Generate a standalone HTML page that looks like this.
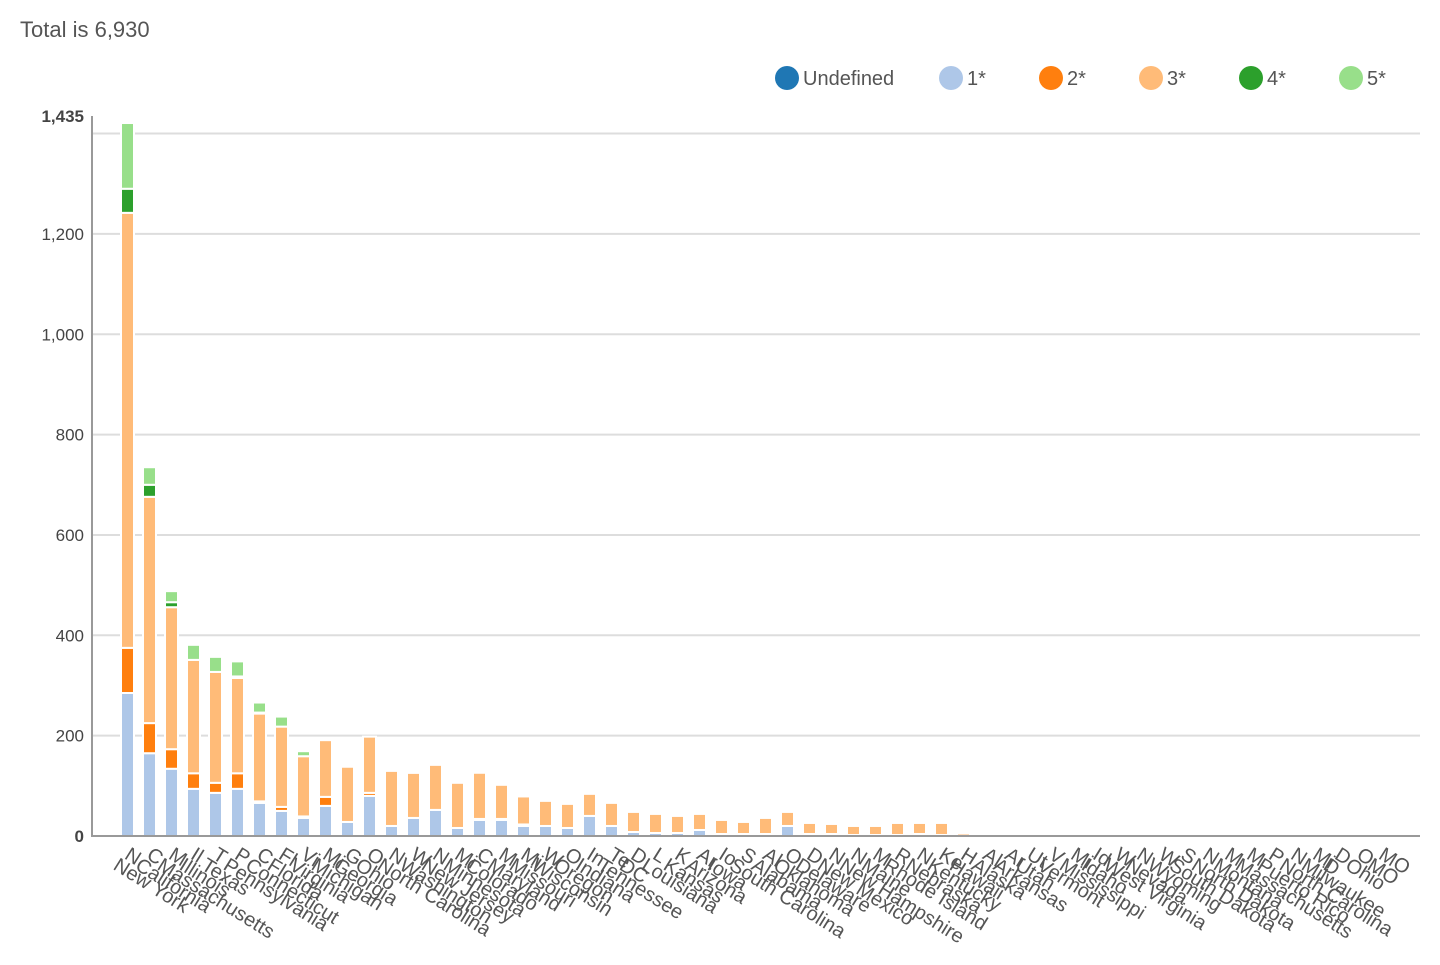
<!DOCTYPE html>
<html><head><meta charset="utf-8"><style>
body{margin:0;background:#fff;width:1440px;height:960px;overflow:hidden;font-family:"Liberation Sans",sans-serif}
svg text{font-family:"Liberation Sans",sans-serif}
</style></head><body>
<svg id="chart" width="1440" height="960">
<text x="20" y="37" font-size="22" fill="#555">Total is 6,930</text>
<g id="legend"></g>
<g id="grid"></g>
<g id="yaxis"></g>
<g id="bars"></g>
<g id="xaxis"></g>
</svg>
<script>
const categories=["New York","California","Massachusetts","Illinois","Texas","Pennsylvania","Connecticut","Florida","Virginia","Michigan","Georgia","Ohio","North Carolina","Washington","New Jersey","Minnesota","Colorado","Maryland","Missouri","Wisconsin","Oregon","Indiana","Tennessee","DC","Louisiana","Kansas","Arizona","Iowa","South Carolina","Alabama","Oklahoma","Delaware","New Mexico","New Hampshire","Maine","Rhode Island","Nebraska","Kentucky","Hawaii","Alaska","Arkansas","Utah","Vermont","Mississippi","Idaho","West Virginia","Nevada","Wyoming","South Dakota","North Dakota","Montana","Massachusetts","Puerto Rico","North Carolina","Milwaukee","D","Ohio","MO"];
const abbrevs=["N","C","M","Il","T","P","C","Fl","Vi","Mi","G","O","N","W","N","Mi","C","M","Mi","W","O","In","Te","D","L","K","Ar","Io","S","Al","O","D","N","N","M","R","N","Ke","H","Al","Ar","Ut","V","Mi","Id","W","N","W","S","N","M","M","P","N","Mi","D","O","MO"];
const seriesNames=["Undefined","1*","2*","3*","4*","5*"];
const seriesColors=["#1f77b4","#aec7e8","#ff7f0e","#ffbb78","#2ca02c","#98df8a"];
const undef=[0,0,0,0,0,0,0,0,0,0,0,0,0,0,0,0,0,0,0,0,0,0,0,0,0,0,0,0,0,0,0,0,0,0,0,0,0,0,0,0,0,0,0,0,0,0,0,0,0,0,0,0,0,0,0,0,0,0];
const s1=[285,165,134,94,86,94,66,50,36,60,28,80,20,36,52,16,32,32,20,20,16,40,20,8,6,6,12,4,4,4,20,4,4,2,2,2,4,2,1,1,1,0,0,0,0,0,0,0,0,0,0,0,0,0,0,0,0,0];
const s2=[90,60,39,31,20,31,3,8,3,18,0,6,0,0,0,0,2,2,3,0,0,0,0,0,0,0,0,0,0,0,0,0,0,0,0,0,0,0,0,0,0,0,0,0,0,0,0,0,0,0,0,0,0,0,0,0,0,0];
const s3=[867,451,283,226,221,190,175,160,120,113,110,112,110,90,90,90,92,68,56,50,48,44,46,40,38,34,32,28,24,32,28,22,20,18,18,24,22,24,5,3,3,1,0,0,0,0,0,0,0,0,0,0,0,0,0,0,0,0];
const s4=[48,24,10,0,0,3,2,0,0,0,0,0,0,0,0,0,0,0,0,0,0,0,0,0,0,0,0,0,0,0,0,0,0,0,0,0,0,0,0,0,0,0,0,0,0,0,0,0,0,0,0,0,0,0,0,0,0,0];
const s5=[131,35,22,30,30,30,20,20,10,0,0,0,3,3,3,0,0,0,3,0,0,0,0,0,0,0,0,0,0,0,0,0,0,0,0,0,0,0,0,0,0,0,0,0,0,0,0,0,0,0,0,0,0,0,0,0,0,0];
const yTicks=[0,200,400,600,800,1000,1200];
const yMax=1435;

const NS="http://www.w3.org/2000/svg";
const X0=92,X1=1420,Y0=836,Y1=116;
const yScale=v=>Y0-(v/yMax)*(Y0-Y1);
const bandStart=117,step=22.0;
const xScale=i=>bandStart+step*i;
function mk(tag,attrs,parent){const e=document.createElementNS(NS,tag);for(const k in attrs)e.setAttribute(k,attrs[k]);parent.appendChild(e);return e;}

const gGrid=document.getElementById('grid'),gY=document.getElementById('yaxis'),gBars=document.getElementById('bars'),gX=document.getElementById('xaxis'),gLegend=document.getElementById('legend');

[...yTicks,1400].forEach(t=>{if(t===0)return;const l=mk('line',{x1:X0,x2:X1,y1:yScale(t),y2:yScale(t),stroke:'#ddd','stroke-width':2},gGrid);

});
yTicks.forEach(t=>{const tx=mk('text',{x:84,y:yScale(t)+6,'text-anchor':'end','font-size':17,fill:'#444','font-weight':t===0?'bold':'normal'},gY);tx.textContent=t.toLocaleString('en-US');

});
const topLabel=mk('text',{x:84,y:yScale(yMax)+6,'text-anchor':'end','font-size':17,fill:'#444','font-weight':'bold'},gY);topLabel.textContent=yMax.toLocaleString('en-US');


const ya=mk('line',{x1:X0,x2:X0,y1:Y1,y2:Y0+1,stroke:'#999','stroke-width':2},gY);



const seriesList=[undef,s1,s2,s3,s4,s5];
categories.forEach((c,i)=>{let acc=0;const g=mk('g',{},gBars);


seriesList.forEach((s,k)=>{const v=s[i];if(v<=0){return;}const yt=yScale(acc+v),yb=yScale(acc);acc+=v;
const r=mk('rect',{x:xScale(i)+4,y:yt,width:13,height:Math.max(0.5,yb-yt),fill:seriesColors[k],stroke:'#fff','stroke-width':2},g);

});});

const xa=mk('line',{x1:X0,x2:X1,y1:Y0,y2:Y0,stroke:'#999','stroke-width':2},gX);


categories.forEach((c,i)=>{const cx=xScale(i)+10.5;const t=mk('text',{transform:`translate(${cx-4},858) rotate(32)`,'font-size':20,fill:'#555'},gX);


const a=mk('tspan',{x:0,dy:0},t);a.textContent=abbrevs[i];
const b=mk('tspan',{x:-4,dy:15},t);b.textContent=c;});

const lx=[787,951,1051,1151,1251,1351];
seriesNames.forEach((n,k)=>{const g=mk('g',{},gLegend);


mk('circle',{cx:lx[k],cy:78,r:12,fill:seriesColors[k]},g);
const t=mk('text',{x:lx[k]+16,y:85,'font-size':20,fill:'#555'},g);t.textContent=n;});
</script>
</body></html>
